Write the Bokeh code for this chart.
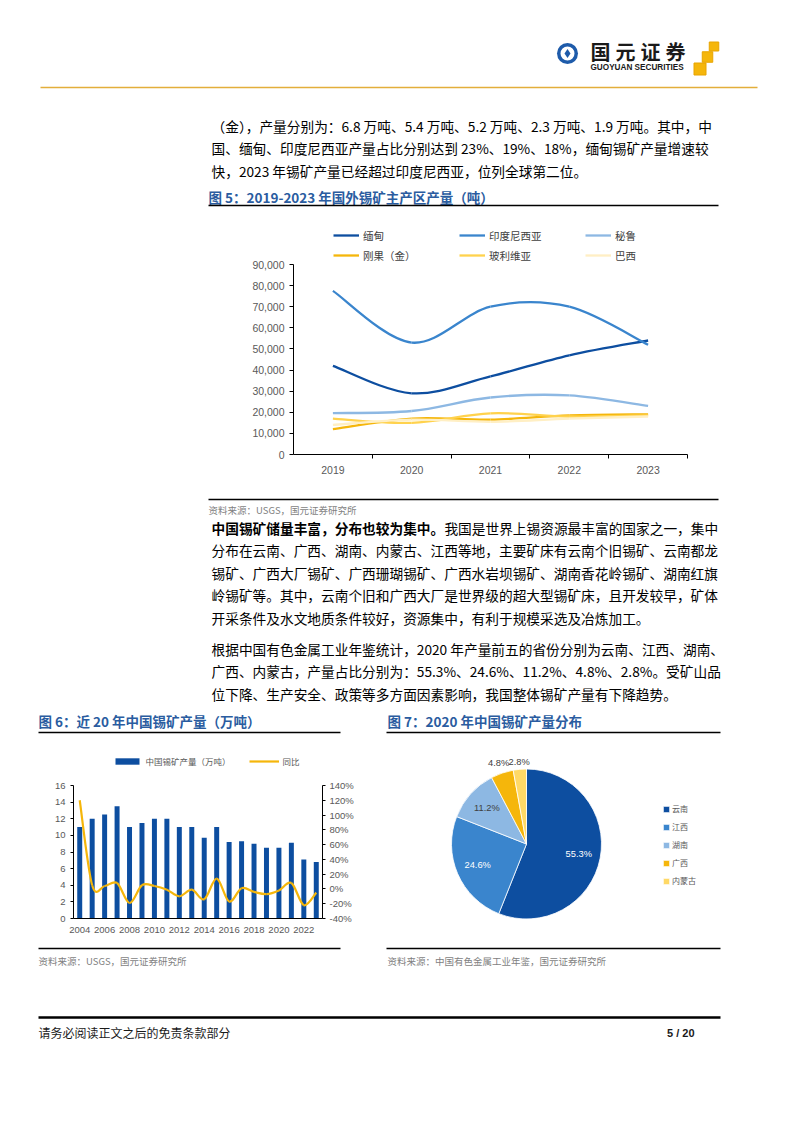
import numpy as np
from bokeh.plotting import figure
from bokeh.models import (Range1d, FixedTicker, NumeralTickFormatter, PrintfTickFormatter,
                          LinearAxis, Legend, LegendItem, ColumnDataSource)
from bokeh.layouts import column, row
from bokeh.core.properties import value
from bokeh.embed import file_html
from bokeh.resources import INLINE

# ---------------- data ----------------
years5 = [2019, 2020, 2021, 2022, 2023]
names5 = ["缅甸", "印度尼西亚", "秘鲁", "刚果（金）", "玻利维亚", "巴西"]
myanmar = [42000, 29000, 37000, 47000, 54000]
indonesia = [77500, 53000, 70000, 70000, 52000]
peru = [19600, 20600, 27000, 28000, 23000]
drc = [12000, 17000, 16500, 18500, 19000]
bolivia = [17000, 15000, 19500, 18000, 18500]
brazil = [14000, 16500, 15500, 17000, 18000]
y5_ticks = [0, 10000, 20000, 30000, 40000, 50000, 60000, 70000, 80000, 90000]

years6 = [2004, 2005, 2006, 2007, 2008, 2009, 2010, 2011, 2012, 2013,
          2014, 2015, 2016, 2017, 2018, 2019, 2020, 2021, 2022, 2023]
china_output = [11.0, 12.0, 12.5, 13.5, 11.0, 11.5, 12.0, 12.0, 11.0, 11.0,
                9.7, 11.0, 9.2, 9.3, 9.0, 8.5, 8.5, 9.1, 7.1, 6.8]
china_yoy = [120, 5, 4, 8, -19, 5, 4, -1, -10, -1,
             -14, 14, -17, 1, -4, -7, -2, 8, -22, -5]
x6_ticks = [2004, 2006, 2008, 2010, 2012, 2014, 2016, 2018, 2020, 2022]
y6_left_ticks = [0, 2, 4, 6, 8, 10, 12, 14, 16]
y6_right_ticks = [-40, -20, 0, 20, 40, 60, 80, 100, 120, 140]
legend6 = ["中国锡矿产量（万吨）", "同比"]

provinces = ["云南", "江西", "湖南", "广西", "内蒙古"]
shares = [55.3, 24.6, 11.2, 4.8, 2.8]

para1 = [
    "（金），产量分别为：6.8 万吨、5.4 万吨、5.2 万吨、2.3 万吨、1.9 万吨。其中，中",
    "国、缅甸、印度尼西亚产量占比分别达到 23%、19%、18%，缅甸锡矿产量增速较",
    "快，2023 年锡矿产量已经超过印度尼西亚，位列全球第二位。",
]
para2_bold = "中国锡矿储量丰富，分布也较为集中。"
para2 = [
    "我国是世界上锡资源最丰富的国家之一，集中",
    "分布在云南、广西、湖南、内蒙古、江西等地，主要矿床有云南个旧锡矿、云南都龙",
    "锡矿、广西大厂锡矿、广西珊瑚锡矿、广西水岩坝锡矿、湖南香花岭锡矿、湖南红旗",
    "岭锡矿等。其中，云南个旧和广西大厂是世界级的超大型锡矿床，且开发较早，矿体",
    "开采条件及水文地质条件较好，资源集中，有利于规模采选及冶炼加工。",
]
para3 = [
    "根据中国有色金属工业年鉴统计，2020 年产量前五的省份分别为云南、江西、湖南、",
    "广西、内蒙古，产量占比分别为：55.3%、24.6%、11.2%、4.8%、2.8%。受矿山品",
    "位下降、生产安全、政策等多方面因素影响，我国整体锡矿产量有下降趋势。",
]
title5 = "图 5：2019-2023 年国外锡矿主产区产量（吨）"
title6 = "图 6：近 20 年中国锡矿产量（万吨）"
title7 = "图 7：2020 年中国锡矿产量分布"
source5 = "资料来源：USGS，国元证券研究所"
source6 = "资料来源：USGS，国元证券研究所"
source7 = "资料来源：中国有色金属工业年鉴，国元证券研究所"
footer_left = "请务必阅读正文之后的免责条款部分"
footer_right = "5 / 20"

# ---------------- style ----------------
CJK = "Noto Sans CJK SC"
LAT = "Liberation Sans"
BLUE_D = "#0D4EA0"
BLUE_M = "#3A85CD"
BLUE_L = "#8DB8E3"
GOLD = "#F5B60B"
YEL = "#FFD24D"
PALE = "#FFEFC4"
TITLE_BLUE = "#2A5CA0"
GRAY = "#595959"
colors5 = [BLUE_D, BLUE_M, BLUE_L, GOLD, YEL, PALE]
pie_colors = [BLUE_D, BLUE_M, BLUE_L, GOLD, "#FFD966"]
PAGE_W = 786
BODY = 13.7


def base_fig(**kw):
    f = figure(toolbar_location=None, output_backend="svg", **kw)
    try:
        f.frame_align = False
    except Exception:
        pass
    f.outline_line_color = None
    f.background_fill_color = "white"
    f.border_fill_color = "white"
    return f


def text_fig(top, bottom, left=0, right=PAGE_W):
    return base_fig(width=right - left, height=bottom - top, x_range=Range1d(left, right),
                    y_range=Range1d(bottom, top), x_axis_type=None, y_axis_type=None,
                    min_border=0)


def txt(f, x, y, s, size, color="black", bold=False, align="left", font=CJK):
    f.text(x=[x], y=[y], text=[s], text_font=value(font), text_font_size=value(f"{size}px"),
           text_color=color, text_font_style="bold" if bold else "normal",
           text_align=align, text_baseline="middle")


def hline(f, x0, x1, y, color="black", width=1.5):
    f.segment(x0=[x0], y0=[y], x1=[x1], y1=[y], line_color=color, line_width=width)


def smooth(xs, ys):
    n = len(xs)
    d = {k: [] for k in ["x0", "y0", "x1", "y1", "cx0", "cy0", "cx1", "cy1"]}
    for i in range(n - 1):
        xp, yp = (xs[i - 1], ys[i - 1]) if i > 0 else (xs[i], ys[i])
        xn, yn = (xs[i + 2], ys[i + 2]) if i + 2 < n else (xs[i + 1], ys[i + 1])
        d["x0"].append(xs[i]); d["y0"].append(ys[i])
        d["x1"].append(xs[i + 1]); d["y1"].append(ys[i + 1])
        d["cx0"].append(xs[i] + (xs[i + 1] - xp) / 6.0)
        d["cy0"].append(ys[i] + (ys[i + 1] - yp) / 6.0)
        d["cx1"].append(xs[i + 1] - (xn - xs[i]) / 6.0)
        d["cy1"].append(ys[i + 1] - (yn - ys[i]) / 6.0)
    return ColumnDataSource(d)


def style_axis(ax, size):
    ax.axis_line_color = "black"
    ax.major_tick_line_color = "black"
    ax.major_label_text_font = LAT
    ax.major_label_text_font_size = f"{size}px"
    ax.major_label_text_color = GRAY


# ---------------- top text ----------------
top = text_fig(0, 215)
top.circle(x=[567], y=[53], radius=10.5, fill_color="#1E5BAA", line_color=None)
top.circle(x=[567], y=[53], radius=7, fill_color="white", line_color=None)
top.scatter(x=[567], y=[53], marker="diamond", size=9, fill_color="#1E5BAA", line_color=None)
for i, ch in enumerate("国元证券"):
    txt(top, 600 + 25 * i, 51, ch, 20, color="#1a1a1a", bold=True, align="center")
txt(top, 590, 66.5, "GUOYUAN SECURITIES", 8.2, color="#1a1a1a", bold=True, font=LAT)
top.rect(x=[713.5, 707, 699.5], y=[46, 56.5, 68.5], width=[9.5, 10.5, 12], height=[9, 10.5, 12],
         fill_color=GOLD, line_color="#E8A400")
hline(top, 40, 757, 87, color="#E3AE3B", width=1.5)
for i, s in enumerate(para1):
    txt(top, 211, 125 + 22.5 * i, s, BODY)
txt(top, 208, 196, title5, 13.5, color=TITLE_BLUE, bold=True)
hline(top, 208, 718, 205, width=1.5)

# ---------------- chart 5 ----------------
# frame: 394 px wide; value axis spans 190 px of a 234 px tall frame (top part holds the legend)
Y5_MAX = 90000
H5_FRAME, H5_AXIS = 234, 190
p5 = base_fig(width=PAGE_W, height=275, x_range=Range1d(2018.5, 2023.5),
              y_range=Range1d(0, Y5_MAX * H5_FRAME / H5_AXIS),
              min_border_left=293, min_border_right=PAGE_W - 293 - 394,
              min_border_top=5, min_border_bottom=36)
p5.grid.visible = False
series5 = [myanmar, indonesia, peru, drc, bolivia, brazil]
items5 = []
for name, vals, col in zip(names5, series5, colors5):
    r = p5.bezier(x0="x0", y0="y0", x1="x1", y1="y1", cx0="cx0", cy0="cy0", cx1="cx1", cy1="cy1",
                  source=smooth(years5, vals), line_color=col, line_width=2.3)
    items5.append(LegendItem(label=name, renderers=[r]))
p5.xaxis.ticker = FixedTicker(ticks=years5, minor_ticks=[y + 0.5 for y in years5])
style_axis(p5.xaxis[0], 10.5)
p5.xaxis.major_tick_out = 0
p5.xaxis.major_tick_in = 0
p5.xaxis.minor_tick_out = 4
p5.xaxis.minor_tick_in = 0
p5.xaxis.minor_tick_line_color = "black"
p5.xaxis.major_label_standoff = 7
p5.yaxis.ticker = FixedTicker(ticks=y5_ticks, minor_ticks=[])
p5.yaxis.formatter = NumeralTickFormatter(format="0,0")
p5.yaxis.bounds = (0, Y5_MAX)
style_axis(p5.yaxis[0], 10.5)
p5.yaxis.major_tick_out = 4
p5.yaxis.major_tick_in = 0
p5.yaxis.minor_tick_line_color = None
p5.yaxis.major_label_standoff = 5
leg5 = Legend(items=items5, location=(40, 189), orientation="horizontal", ncols=3,
              glyph_width=26, glyph_height=20, label_height=20, label_width=96,
              label_standoff=4, spacing=0, padding=0, margin=0,
              border_line_color=None, background_fill_alpha=0,
              label_text_font=CJK, label_text_font_size="10.5px", label_text_color="#404040")
p5.add_layout(leg5, "center")

# ---------------- middle text ----------------
mid = text_fig(490, 737)
hline(mid, 208, 718, 499, width=1.5)
txt(mid, 208, 509, source5, 9.5, color="#7f7f7f")
txt(mid, 211, 527, para2_bold, BODY, bold=True)
txt(mid, 211 + BODY * len(para2_bold), 527, para2[0], BODY)
for i, s in enumerate(para2[1:]):
    txt(mid, 211, 549.5 + 22.5 * i, s, BODY)
for i, s in enumerate(para3):
    txt(mid, 211, 648 + 22.5 * i, s, BODY)
txt(mid, 38, 720, title6, 13.5, color=TITLE_BLUE, bold=True)
txt(mid, 387, 720, title7, 13.5, color=TITLE_BLUE, bold=True)
hline(mid, 38, 340, 732, width=1.5)
hline(mid, 386, 720, 732, width=1.5)

# ---------------- chart 6 ----------------
H6_FRAME, H6_AXIS = 168, 133
L6 = (0, 16)
R6 = (-40, 140)
p6 = base_fig(width=375, height=208, x_range=Range1d(2003.5, 2023.5),
              y_range=Range1d(L6[0], L6[0] + (L6[1] - L6[0]) * H6_FRAME / H6_AXIS),
              min_border_left=73, min_border_right=53, min_border_top=13, min_border_bottom=27)
p6.grid.visible = False
p6.extra_y_ranges = {"pct": Range1d(R6[0], R6[0] + (R6[1] - R6[0]) * H6_FRAME / H6_AXIS)}
rb = p6.vbar(x=years6, top=china_output, width=0.4, fill_color=BLUE_D, line_color=None)
rl = p6.bezier(x0="x0", y0="y0", x1="x1", y1="y1", cx0="cx0", cy0="cy0", cx1="cx1", cy1="cy1",
               source=smooth(years6, china_yoy), line_color=GOLD, line_width=2.2, y_range_name="pct")
p6.xaxis.ticker = FixedTicker(ticks=x6_ticks, minor_ticks=[])
style_axis(p6.xaxis[0], 9.5)
p6.xaxis.major_tick_out = 0
p6.xaxis.major_tick_in = 0
p6.xaxis.minor_tick_line_color = None
p6.xaxis.major_label_standoff = 8
p6.yaxis.ticker = FixedTicker(ticks=y6_left_ticks, minor_ticks=[])
p6.yaxis.bounds = L6
style_axis(p6.yaxis[0], 9.5)
p6.yaxis.major_tick_out = 3
p6.yaxis.major_tick_in = 0
p6.yaxis.minor_tick_line_color = None
p6.yaxis.major_label_standoff = 5
ax_r = LinearAxis(y_range_name="pct", ticker=FixedTicker(ticks=y6_right_ticks, minor_ticks=[]),
                  formatter=PrintfTickFormatter(format="%d%%"), bounds=R6)
style_axis(ax_r, 9.5)
ax_r.major_tick_out = 3
ax_r.major_tick_in = 0
ax_r.minor_tick_line_color = None
ax_r.major_label_standoff = 4
p6.add_layout(ax_r, "right")
leg6 = Legend(items=[LegendItem(label=legend6[0], renderers=[rb]),
                     LegendItem(label=legend6[1], renderers=[rl])],
              location=(38.5, 151), orientation="horizontal",
              glyph_width=30, glyph_height=8, label_height=8, label_width=103,
              label_standoff=4, spacing=0, padding=0, margin=0,
              border_line_color=None, background_fill_alpha=0,
              label_text_font=CJK, label_text_font_size="8.5px", label_text_color="#595959")
p6.add_layout(leg6, "center")

# ---------------- chart 7 (pie) ----------------
p7 = text_fig(737, 945, left=375, right=PAGE_W)
cx, cy, R = 526, 843.5, 75
fr = np.array(shares) / np.sum(shares)
cum = np.concatenate([[0.0], np.cumsum(fr)])
start = np.pi / 2 - 2 * np.pi * cum[:-1]
end = np.pi / 2 - 2 * np.pi * cum[1:]
src7 = ColumnDataSource(dict(start=start, end=end, color=pie_colors, name=provinces))
rw = p7.wedge(x=cx, y=cy, radius=R, start_angle="start", end_angle="end", direction="clock",
              fill_color="color", line_color="white", line_width=0.8, source=src7)
mida = (start + end) / 2
lab_r = [0.71, 0.71, 0.71, 1.14, 1.1]
lab_col = ["white", "white", "#404040", "#404040", "#404040"]
for i, s in enumerate(shares):
    txt(p7, cx + lab_r[i] * R * np.cos(mida[i]), cy - lab_r[i] * R * np.sin(mida[i]),
        f"{s:.1f}%", 9.3, color=lab_col[i], align="center", font=LAT)
leg7 = Legend(items=[LegendItem(label=provinces[i], renderers=[rw], index=i) for i in range(5)],
              location=(287, 59), orientation="vertical",
              glyph_width=8, glyph_height=8, label_height=8, label_standoff=2,
              spacing=7, padding=0, margin=0, border_line_color=None, background_fill_alpha=0,
              label_text_font=CJK, label_text_font_size="8px", label_text_color="#595959")
p7.add_layout(leg7, "center")

# ---------------- bottom text ----------------
bot = text_fig(945, 1060)
hline(bot, 38, 340, 948, width=1.5)
hline(bot, 386, 720, 948, width=1.5)
txt(bot, 38, 960, source6, 9.5, color="#7f7f7f")
txt(bot, 387, 960, source7, 9.5, color="#7f7f7f")
hline(bot, 38, 720, 1017, width=2.5)
txt(bot, 38, 1032, footer_left, 12, color="#1a1a1a")
txt(bot, 694, 1032, footer_right, 11, color="#1a1a1a", bold=True, align="right", font=LAT)

layout = column(top, p5, mid, row(p6, p7, spacing=0), bot, spacing=0)
open("out.html", "w").write(file_html(layout, INLINE))
